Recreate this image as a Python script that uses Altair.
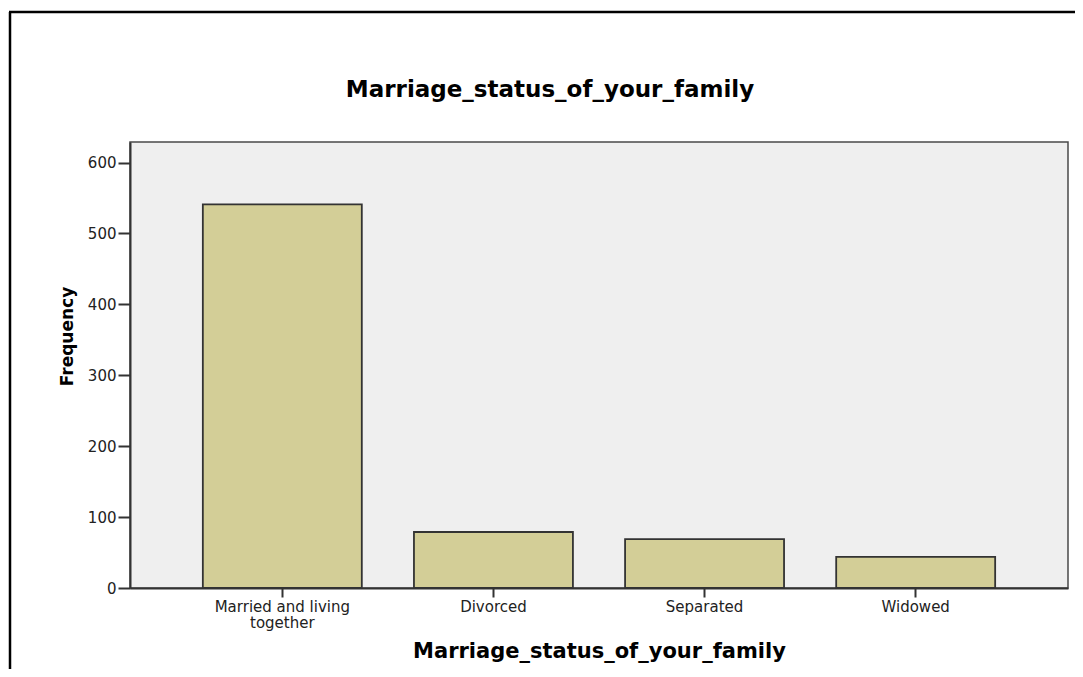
import altair as alt
import pandas as pd

# ---- data ----
categories = ["Married and living together", "Divorced", "Separated", "Widowed"]
frequencies = [541, 79, 69, 44]
y_ticks = [0, 100, 200, 300, 400, 500, 600]
chart_title = "Marriage_status_of_your_family"
x_title = "Marriage_status_of_your_family"
y_title = "Frequency"

df = pd.DataFrame({"status": categories, "freq": frequencies})

FONT = "DejaVu Sans"
W, H = 938, 446

label_expr = (
    "datum.label == 'Married and living together' "
    "? ['Married and living', 'together'] : datum.label"
)

bars = alt.Chart(df).mark_bar(
    color="#d3ce97", stroke="#333333", strokeWidth=1.8
).encode(
    x=alt.X(
        "status:N",
        sort=categories,
        scale=alt.Scale(paddingInner=0.247, paddingOuter=0.345),
        axis=alt.Axis(
            title=x_title,
            labelAngle=0,
            labelFont=FONT,
            labelFontSize=15,
            labelColor="#222222",
            labelExpr=label_expr,
            labelLineHeight=16,
            labelPadding=2,
            tickSize=9,
            tickColor="#333333",
            tickWidth=2,
            domainColor="#333333",
            domainWidth=2,
            titleFont=FONT,
            titleFontSize=21,
            titleFontWeight="bold",
            titleColor="#000000",
            titleX=469,
            titleY=63,
            titleAlign="center",
            titleBaseline="middle",
        ),
    ),
    y=alt.Y(
        "freq:Q",
        scale=alt.Scale(domain=[0, 629], nice=False),
        axis=alt.Axis(
            values=y_ticks,
            grid=False,
            title=y_title,
            labelFont=FONT,
            labelFontSize=15,
            labelColor="#222222",
            labelPadding=2,
            tickSize=12,
            tickColor="#333333",
            tickWidth=2,
            domainColor="#333333",
            domainWidth=2,
            titleFont=FONT,
            titleFontSize=17,
            titleFontWeight="bold",
            titleColor="#000000",
            titleAngle=270,
            titleX=-63,
            titleY=194,
            titleAlign="center",
            titleBaseline="middle",
        ),
    ),
)

one = pd.DataFrame({"k": [0]})

frame_left = alt.Chart(one).mark_rule(color="black", strokeWidth=2.5).encode(
    x=alt.value(-120), y=alt.value(-130), y2=alt.value(H + 200)
)
frame_top = alt.Chart(one).mark_rule(color="black", strokeWidth=2.5).encode(
    x=alt.value(-121), x2=alt.value(W + 200), y=alt.value(-130)
)

title = alt.Chart(one).mark_text(
    font=FONT, fontSize=23, fontWeight="bold", color="#000000",
    align="center", baseline="alphabetic"
).encode(x=alt.value(420), y=alt.value(-45), text=alt.value(chart_title))

chart = alt.layer(bars, frame_left, frame_top, title).properties(
    width=W,
    height=H,
    padding={"left": 122, "top": 134, "right": 7, "bottom": 81},
    autosize=alt.AutoSizeParams(type="none"),
    background="white",
).configure_view(
    fill="#efefef", stroke="#4a4a4a", strokeWidth=1.5
)

chart.save("out.html", embed_options={"renderer": "svg", "actions": False})
